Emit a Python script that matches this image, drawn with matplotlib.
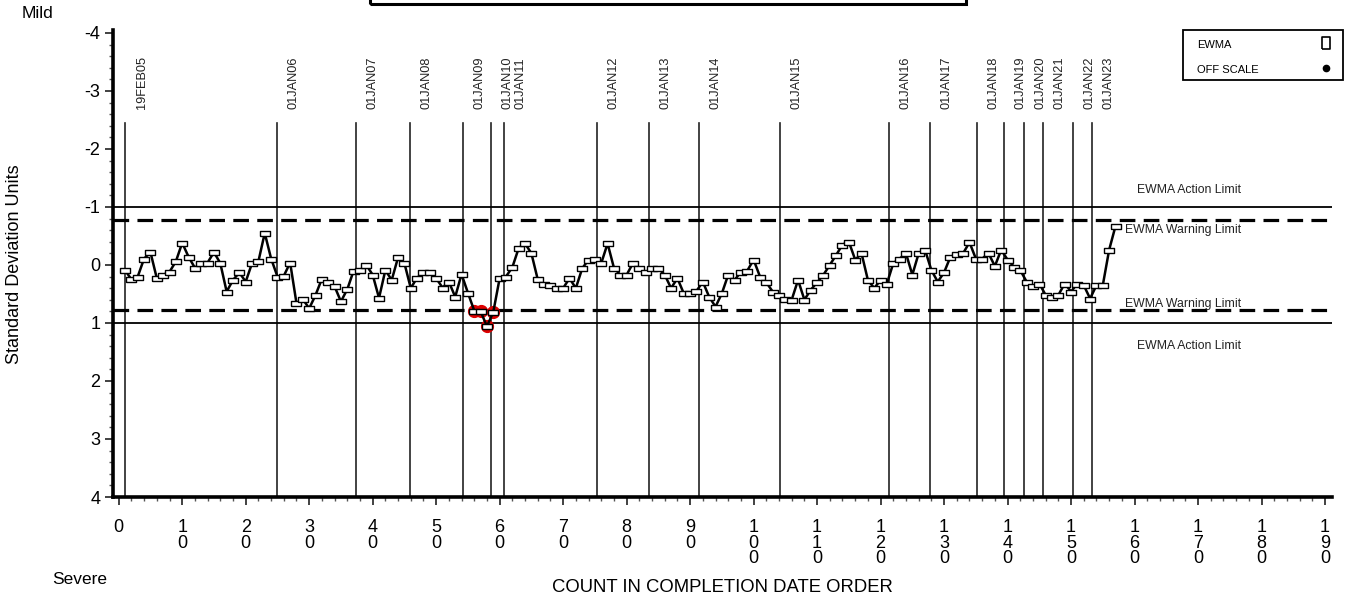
import matplotlib
matplotlib.use("Agg")
import matplotlib.pyplot as plt
from matplotlib.patches import Rectangle
from matplotlib.ticker import MultipleLocator, FixedLocator

plt.rcParams['font.family'] = ['Liberation Sans', 'DejaVu Sans']

# ---- data ----
ewma = [0.09, 0.25, 0.20, -0.11, -0.22, 0.23, 0.17, 0.12, -0.06, -0.38,
        -0.14, 0.05, -0.04, -0.04, -0.22, -0.03, 0.46, 0.26, 0.13, 0.29,
        -0.03, -0.06, -0.55, -0.11, 0.20, 0.19, -0.04, 0.66, 0.59, 0.75,
        0.52, 0.24, 0.30, 0.37, 0.63, 0.42, 0.10, 0.09, 0.00, 0.17,
        0.57, 0.09, 0.26, -0.13, -0.03, 0.40, 0.22, 0.13, 0.12, 0.23,
        0.39, 0.29, 0.55, 0.16, 0.48, 0.79, 0.80, 1.06, 0.81, 0.23,
        0.20, 0.04, -0.29, -0.37, -0.20, 0.25, 0.32, 0.35, 0.40, 0.40,
        0.23, 0.40, 0.06, -0.09, -0.10, -0.03, -0.37, 0.05, 0.17, 0.17,
        -0.03, 0.06, 0.12, 0.06, 0.06, 0.17, 0.40, 0.23, 0.49, 0.49,
        0.45, 0.29, 0.55, 0.72, 0.49, 0.17, 0.26, 0.12, 0.10, -0.09,
        0.20, 0.30, 0.46, 0.52, 0.58, 0.60, 0.26, 0.60, 0.43, 0.30,
        0.17, 0.00, -0.17, -0.35, -0.40, -0.09, -0.20, 0.26, 0.40, 0.26,
        0.32, -0.03, -0.11, -0.20, 0.17, -0.20, -0.26, 0.09, 0.29, 0.13,
        -0.14, -0.19, -0.20, -0.39, -0.11, -0.11, -0.20, 0.02, -0.26, -0.09,
        0.03, 0.09, 0.29, 0.37, 0.32, 0.52, 0.55, 0.52, 0.32, 0.46,
        0.32, 0.35, 0.58, 0.35, 0.35, -0.26, -0.67]
count = list(range(1, len(ewma) + 1))

date_labels = ["19FEB05", "01JAN06", "01JAN07", "01JAN08", "01JAN09", "01JAN10",
               "01JAN11", "01JAN12", "01JAN13", "01JAN14", "01JAN15", "01JAN16",
               "01JAN17", "01JAN18", "01JAN19", "01JAN20", "01JAN21", "01JAN22",
               "01JAN23"]
date_pos = [1.0, 25.0, 37.4, 45.9, 54.2, 58.6, 60.7, 75.3, 83.5, 91.4,
            104.1, 121.3, 127.8, 135.2, 139.4, 142.6, 145.6, 150.3, 153.3]

action_limit = 1.0
warning_limit = 0.78

xticks = list(range(0, 200, 10))
yticks = list(range(-4, 5))

# ---- figure ----
W, H = 1358, 599
fig = plt.figure(figsize=(W / 100, H / 100), dpi=100)
ax = fig.add_axes([113 / W, 1 - 497 / H, (1332 - 113) / W, (497 - 30) / H])
ax.set_xlim(-0.9, 191.1)
ax.set_ylim(4, -4.05)

for s in ['top', 'right']:
    ax.spines[s].set_visible(False)
for s in ['left', 'bottom']:
    ax.spines[s].set_linewidth(2.6)

# limit lines
for v in (-action_limit, action_limit):
    ax.axhline(v, color='black', lw=1.3, zorder=2)
for v in (-warning_limit, warning_limit):
    ax.axhline(v, color='black', lw=2.3, ls=(0, (4.9, 2.6)), zorder=2)

# date lines and labels
for lab, p in zip(date_labels, date_pos):
    ax.plot([p, p], [-2.45, 4], color='#222222', lw=1.2, zorder=1)
    ax.text(p + 2.6, -2.68, lab, rotation=90, ha='center', va='bottom',
            fontsize=9.2, color='#222222')

# series
rect = [(-2, -1), (2, -1), (2, 1), (-2, 1), (-2, -1)]
cx = [c for c, v in zip(count, ewma) if abs(v) >= warning_limit]
cy = [v for v in ewma if abs(v) >= warning_limit]
ax.plot(cx, cy, ls='none', marker='o', markersize=8.5, color='#dd0000', zorder=2.5)
ax.plot(count, ewma, color='black', lw=1.8, zorder=3,
        marker=rect, markersize=7.2, markerfacecolor='white',
        markeredgecolor='black', markeredgewidth=1.0)

# limit labels
lk = dict(fontsize=8.8, color='#222222', va='center')
fig.text(1137 / W, 1 - 190 / H, "EWMA Action Limit", **lk)
fig.text(1125 / W, 1 - 230 / H, "EWMA Warning Limit", **lk)
fig.text(1125 / W, 1 - 304 / H, "EWMA Warning Limit", **lk)
fig.text(1137 / W, 1 - 346 / H, "EWMA Action Limit", **lk)

# ticks
ax.xaxis.set_major_locator(FixedLocator(xticks))
ax.set_xticklabels(['\n'.join(str(t)) for t in xticks], fontsize=13,
                   linespacing=0.88, va='top')
ax.xaxis.set_minor_locator(MultipleLocator(2))
ax.yaxis.set_major_locator(FixedLocator(yticks))
ax.set_yticklabels([str(t) for t in yticks], fontsize=13)
ax.yaxis.set_minor_locator(MultipleLocator(0.2))
ax.tick_params(axis='both', which='major', direction='out', length=6, width=1.3,
               color='#333333')
ax.tick_params(axis='both', which='minor', direction='out', length=3, width=1.0,
               color='#555555')
ax.tick_params(axis='x', which='major', pad=10)
ax.tick_params(axis='y', which='major', pad=3)

# axis labels
fig.text(15 / W, 1 - 264 / H, "Standard Deviation Units", rotation=90,
         ha='center', va='center', fontsize=13)
fig.text(722 / W, 1 - 587 / H, "COUNT IN COMPLETION DATE ORDER",
         ha='center', va='center', fontsize=13.3)
fig.text(22 / W, 1 - 13 / H, "Mild", ha='left', va='center', fontsize=12.5)
fig.text(52 / W, 1 - 580 / H, "Severe", ha='left', va='center', fontsize=12.5)

# title box (top cut off)
fig.patches.append(Rectangle((370 / W, 1 - 4 / H), (966 - 370) / W, 0.2,
                             transform=fig.transFigure, fill=False,
                             edgecolor='black', lw=2.2))

# legend box
fig.patches.append(Rectangle((1183 / W, 1 - 80 / H), (1343 - 1183) / W, 50 / H,
                             transform=fig.transFigure, fill=False,
                             edgecolor='black', lw=1.3))
fig.text(1197 / W, 1 - 45 / H, "EWMA", va='center', fontsize=8)
fig.text(1197 / W, 1 - 70 / H, "OFF SCALE", va='center', fontsize=8)
lax = fig.add_axes([1316 / W, 1 - 78 / H, 20 / W, 44 / H])
lax.set_xlim(0, 1)
lax.set_ylim(0, 1)
lax.axis('off')
lax.plot([0.5], [0.8], marker=[(-0.65, -1), (0.65, -1), (0.65, 1), (-0.65, 1), (-0.65, -1)],
         markersize=8, markerfacecolor='white', markeredgecolor='black',
         markeredgewidth=1.2)
lax.plot([0.5], [0.22], marker='o', markersize=4.5, color='black')

fig.savefig("out.png", dpi=100)
